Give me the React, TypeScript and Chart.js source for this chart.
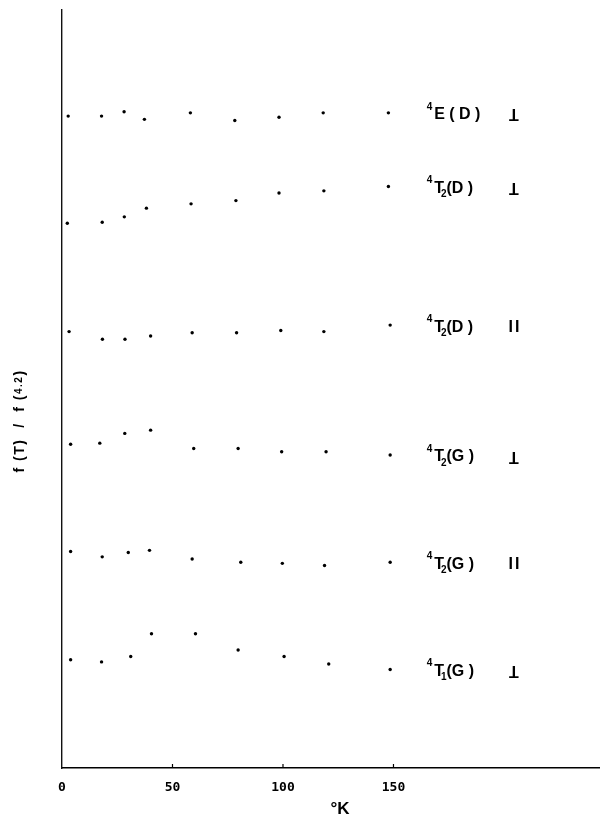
import { useEffect, useRef } from "react";
import { Chart, registerables } from "chart.js";

Chart.register(...registerables);

// ---- data ----
const xTickValues = [0, 50, 100, 150];
const xTitle = "°K";

// temperatures (K) of each measured point, per transition
const tempsE_D_perp = [2.8, 17.9, 28.1, 37.3, 58.1, 78.2, 98.2, 118.2, 147.7];
const tempsT2_D_perp = [2.4, 18.2, 28.2, 38.2, 58.4, 78.7, 98.2, 118.5, 147.7];
const tempsT2_D_par = [3.2, 18.3, 28.5, 40.1, 58.9, 79.0, 99.0, 118.5, 148.5];
const tempsT2_G_perp = [3.9, 17.1, 28.4, 40.1, 59.6, 79.7, 99.4, 119.5, 148.5];
const tempsT2_G_par = [3.9, 18.2, 30.0, 39.6, 58.9, 80.9, 99.7, 118.8, 148.5];
const tempsT1_G_perp = [3.9, 17.9, 31.1, 40.5, 60.4, 79.7, 100.5, 120.7, 148.5];

// f(T)/f(4.2) ratios
const ratioE_D_perp = [1.02, 1.02, 1.06, 0.99, 1.05, 0.98, 1.01, 1.05, 1.05];
const ratioT2_D_perp = [1.03, 1.04, 1.09, 1.17, 1.21, 1.24, 1.31, 1.33, 1.37];
const ratioT2_D_par = [1.03, 0.96, 0.96, 0.99, 1.02, 1.02, 1.04, 1.03, 1.09];
const ratioT2_G_perp = [0.99, 1.0, 1.09, 1.12, 0.95, 0.95, 0.92, 0.92, 0.89];
const ratioT2_G_par = [1.0, 0.95, 0.99, 1.01, 0.93, 0.9, 0.89, 0.87, 0.9];
const ratioT1_G_perp = [1.0, 0.98, 1.03, 1.24, 1.24, 1.09, 1.03, 0.96, 0.91];

// vertical offset added to each curve (curves stacked)
const curveOffsets = [5, 4, 3, 2, 1, 0];

// curve labels: ^sup main _sub rest   polarization
const labelSups = ["4", "4", "4", "4", "4", "4"];
const labelMains = ["E", "T", "T", "T", "T", "T"];
const labelSubs = ["", "2", "2", "2", "2", "1"];
const labelRests = [" ( D )", "(D )", "(D )", "(G )", "(G )", "(G )"];
const labelPols = ["⊥", "⊥", "∥", "⊥", "∥", "⊥"];

const allTemps = [tempsE_D_perp, tempsT2_D_perp, tempsT2_D_par, tempsT2_G_perp, tempsT2_G_par, tempsT1_G_perp];
const allRatios = [ratioE_D_perp, ratioT2_D_perp, ratioT2_D_par, ratioT2_G_perp, ratioT2_G_par, ratioT1_G_perp];

const LABEL_X = 165; // data units where the label starts
const POL_X = 204.5; // data units of polarization symbol centre

const LABEL_FONT = '"Liberation Sans", Arial, sans-serif';

export default function App() {
  const canvasRef = useRef<HTMLCanvasElement | null>(null);

  useEffect(() => {
    document.body.style.margin = "0";
    const canvas = canvasRef.current;
    if (!canvas) return;

    const datasets = allTemps.map((temps, s) => ({
      label: labelMains[s] + labelSubs[s] + labelRests[s] + " " + labelPols[s],
      data: temps.map((t, i) => ({ x: t, y: allRatios[s][i] + curveOffsets[s] })),
      showLine: false,
      pointRadius: 1.7,
      pointBorderWidth: 0,
      pointBackgroundColor: "#000",
      pointBorderColor: "#000",
    }));

    const decorPlugin = {
      id: "decor",
      afterDraw(chart: any) {
        const ctx: CanvasRenderingContext2D = chart.ctx;
        const xs = chart.scales.x;
        const ys = chart.scales.y;
        const area = chart.chartArea;
        ctx.save();
        ctx.fillStyle = "#000";
        ctx.strokeStyle = "#000";

        // inward tick marks
        ctx.lineWidth = 1.2;
        xTickValues.forEach((v) => {
          if (v === 0) return;
          const px = xs.getPixelForValue(v);
          ctx.beginPath();
          ctx.moveTo(px, area.bottom);
          ctx.lineTo(px, area.bottom - 4);
          ctx.stroke();
        });

        // curve labels
        ctx.textBaseline = "middle";
        datasets.forEach((ds, s) => {
          const last = ds.data[ds.data.length - 1];
          const cy = ys.getPixelForValue(last.y) + 2;
          let x = xs.getPixelForValue(LABEL_X);
          ctx.textAlign = "left";
          ctx.font = `bold 10px ${LABEL_FONT}`;
          ctx.fillText(labelSups[s], x, cy - 8);
          x += ctx.measureText(labelSups[s]).width + 2;
          ctx.font = `bold 16px ${LABEL_FONT}`;
          ctx.fillText(labelMains[s], x, cy);
          x += ctx.measureText(labelMains[s]).width;
          if (labelSubs[s]) {
            ctx.font = `bold 10px ${LABEL_FONT}`;
            x -= 3;
            ctx.fillText(labelSubs[s], x, cy + 6);
            x += ctx.measureText(labelSubs[s]).width;
          }
          ctx.font = `bold 16px ${LABEL_FONT}`;
          ctx.fillText(labelRests[s], x, cy);

          // polarization symbol
          const pxc = xs.getPixelForValue(POL_X);
          ctx.textAlign = "center";
          ctx.font = `bold 16px ${LABEL_FONT}`;
          if (labelPols[s] === "⊥") {
            // bold inverted T
            ctx.save();
            ctx.translate(pxc, cy - 1);
            ctx.rotate(Math.PI);
            ctx.fillText("T", 0, 0);
            ctx.restore();
          } else {
            ctx.save();
            (ctx as any).letterSpacing = "2px";
            ctx.fillText("II", pxc + 1, cy);
            ctx.restore();
          }
        });

        // x title
        ctx.textAlign = "center";
        ctx.textBaseline = "middle";
        ctx.font = `bold 17px ${LABEL_FONT}`;
        ctx.fillText(xTitle, 340, 809);

        // y title, rotated
        ctx.translate(20, 421);
        ctx.rotate(-Math.PI / 2);
        const big = `bold 14px ${LABEL_FONT}`;
        const small = `bold 10px ${LABEL_FONT}`;
        const parts: [string, string][] = [
          ["f (T)  /  f (", big],
          ["4.2", small],
          [")", big],
        ];
        (ctx as any).letterSpacing = "1.5px";
        let total = 0;
        parts.forEach(([t, f]) => {
          ctx.font = f;
          total += ctx.measureText(t).width;
        });
        let px = -total / 2;
        ctx.textAlign = "left";
        parts.forEach(([t, f]) => {
          ctx.font = f;
          ctx.fillText(t, px, f === small ? -1 : 0);
          px += ctx.measureText(t).width;
        });
        ctx.restore();
      },
    };

    const chart = new Chart(canvas, {
      type: "scatter",
      data: { datasets },
      options: {
        animation: false,
        responsive: false,
        maintainAspectRatio: false,
        layout: { padding: { top: 10, right: 0, left: 0, bottom: 0 } },
        plugins: { legend: { display: false }, tooltip: { enabled: false } },
        scales: {
          x: {
            type: "linear",
            min: 0,
            max: 243,
            afterFit: (scale: any) => {
              scale.height = 53;
            },
            afterBuildTicks: (scale: any) => {
              scale.ticks = xTickValues.map((v) => ({ value: v }));
            },
            grid: { display: false, drawTicks: false },
            border: { display: true, color: "#000", width: 1.6 },
            ticks: {
              color: "#000",
              padding: 12,
              maxRotation: 0,
              font: { family: '"DejaVu Sans Mono", monospace', size: 13, weight: "bold" },
            },
          },
          y: {
            type: "linear",
            min: 0,
            max: 7,
            afterFit: (scale: any) => {
              scale.width = 62;
            },
            grid: { display: false, drawTicks: false },
            border: { display: true, color: "#111", width: 1.4 },
            ticks: { display: false },
          },
        },
      },
      plugins: [decorPlugin],
    });

    return () => chart.destroy();
  }, []);

  return (
    <div style={{ width: 603, height: 821, position: "relative", background: "#fff" }}>
      <canvas ref={canvasRef} width={603} height={821} style={{ display: "block" }} />
    </div>
  );
}
